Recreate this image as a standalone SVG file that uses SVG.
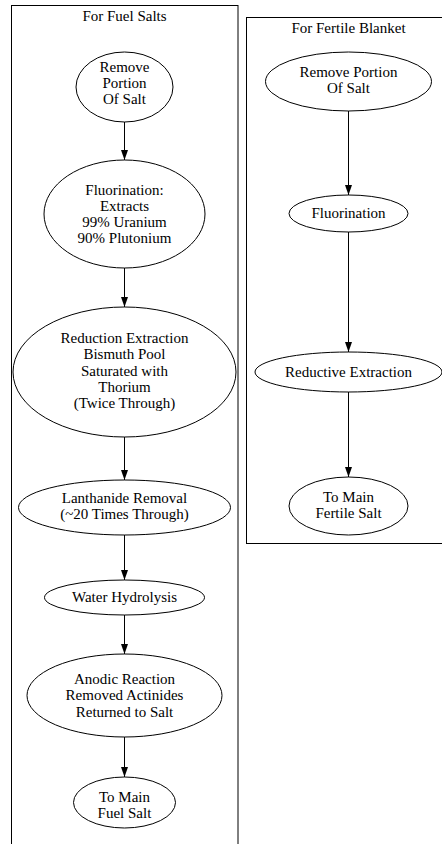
<svg xmlns="http://www.w3.org/2000/svg" width="442" height="844" viewBox="0 0 442 844" font-family="'Liberation Serif', 'Times New Roman', Times, serif" font-size="15">
<defs>
<style>
.cl{fill:none;stroke:#000;stroke-width:1}
.n ellipse{fill:#fff;stroke:#000;stroke-width:1}
text{fill:#000;text-anchor:middle}
.e line{stroke:#000;stroke-width:1;marker-end:url(#ah)}
</style>
<marker id="ah" markerUnits="userSpaceOnUse" markerWidth="10" markerHeight="8" refX="10" refY="3.5" orient="auto">
<path d="M0,0 L10,3.5 L0,7 z" fill="#000"/>
</marker>
</defs>
<rect width="442" height="844" fill="#fff"/>
<g id="cluster_fuel">
<rect class="cl" x="11.5" y="5.5" width="226.5" height="842"/>
<text x="124.5" y="21">For Fuel Salts</text>
</g>
<g id="cluster_blanket">
<rect class="cl" x="246.5" y="17.5" width="200" height="526"/>
<text x="348.5" y="33">For Fertile Blanket</text>
</g>
<g class="e" id="edges">
<line x1="124.5" y1="122" x2="124.5" y2="160"/>
<line x1="124.5" y1="268" x2="124.5" y2="307"/>
<line x1="124.5" y1="437" x2="124.5" y2="480"/>
<line x1="124.5" y1="535" x2="124.5" y2="580"/>
<line x1="124.5" y1="615" x2="124.5" y2="654"/>
<line x1="124.5" y1="737" x2="124.5" y2="777"/>
<line x1="348.5" y1="111" x2="348.5" y2="195"/>
<line x1="348.5" y1="232" x2="348.5" y2="352"/>
<line x1="348.5" y1="392" x2="348.5" y2="477"/>
</g>
<g class="n" id="f1">
<ellipse cx="124.5" cy="87" rx="48.5" ry="35"/>
<text x="124.5" y="72">Remove</text>
<text x="124.5" y="88">Portion</text>
<text x="124.5" y="104">Of Salt</text>
</g>
<g class="n" id="f2">
<ellipse cx="124.5" cy="214" rx="80.5" ry="54"/>
<text x="124.5" y="195">Fluorination:</text>
<text x="124.5" y="211">Extracts</text>
<text x="124.5" y="227">99% Uranium</text>
<text x="124.5" y="243">90% Plutonium</text>
</g>
<g class="n" id="f3">
<ellipse cx="124.5" cy="372" rx="111.5" ry="65"/>
<text x="124.5" y="343">Reduction Extraction</text>
<text x="124.5" y="359">Bismuth Pool</text>
<text x="124.5" y="376">Saturated with</text>
<text x="124.5" y="392">Thorium</text>
<text x="124.5" y="408">(Twice Through)</text>
</g>
<g class="n" id="f4">
<ellipse cx="124.5" cy="507.5" rx="106" ry="27.5"/>
<text x="124.5" y="503">Lanthanide Removal</text>
<text x="124.5" y="519">(~20 Times Through)</text>
</g>
<g class="n" id="f5">
<ellipse cx="124.5" cy="597.5" rx="80" ry="17.5"/>
<text x="124.5" y="602">Water Hydrolysis</text>
</g>
<g class="n" id="f6">
<ellipse cx="124.5" cy="695.5" rx="97.5" ry="41.5"/>
<text x="124.5" y="684">Anodic Reaction</text>
<text x="124.5" y="700">Removed Actinides</text>
<text x="124.5" y="717">Returned to Salt</text>
</g>
<g class="n" id="f7">
<ellipse cx="124.5" cy="802.5" rx="51" ry="25.5"/>
<text x="124.5" y="802">To Main</text>
<text x="124.5" y="818">Fuel Salt</text>
</g>
<g class="n" id="b1">
<ellipse cx="348.5" cy="81.5" rx="83" ry="29.5"/>
<text x="348.5" y="77">Remove Portion</text>
<text x="348.5" y="93">Of Salt</text>
</g>
<g class="n" id="b2">
<ellipse cx="348.5" cy="213.5" rx="59.5" ry="18.5"/>
<text x="348.5" y="218">Fluorination</text>
</g>
<g class="n" id="b3">
<ellipse cx="348.5" cy="372" rx="93.5" ry="20"/>
<text x="348.5" y="377">Reductive Extraction</text>
</g>
<g class="n" id="b4">
<ellipse cx="348.5" cy="506" rx="59.5" ry="29"/>
<text x="348.5" y="502">To Main</text>
<text x="348.5" y="518">Fertile Salt</text>
</g>
</svg>
